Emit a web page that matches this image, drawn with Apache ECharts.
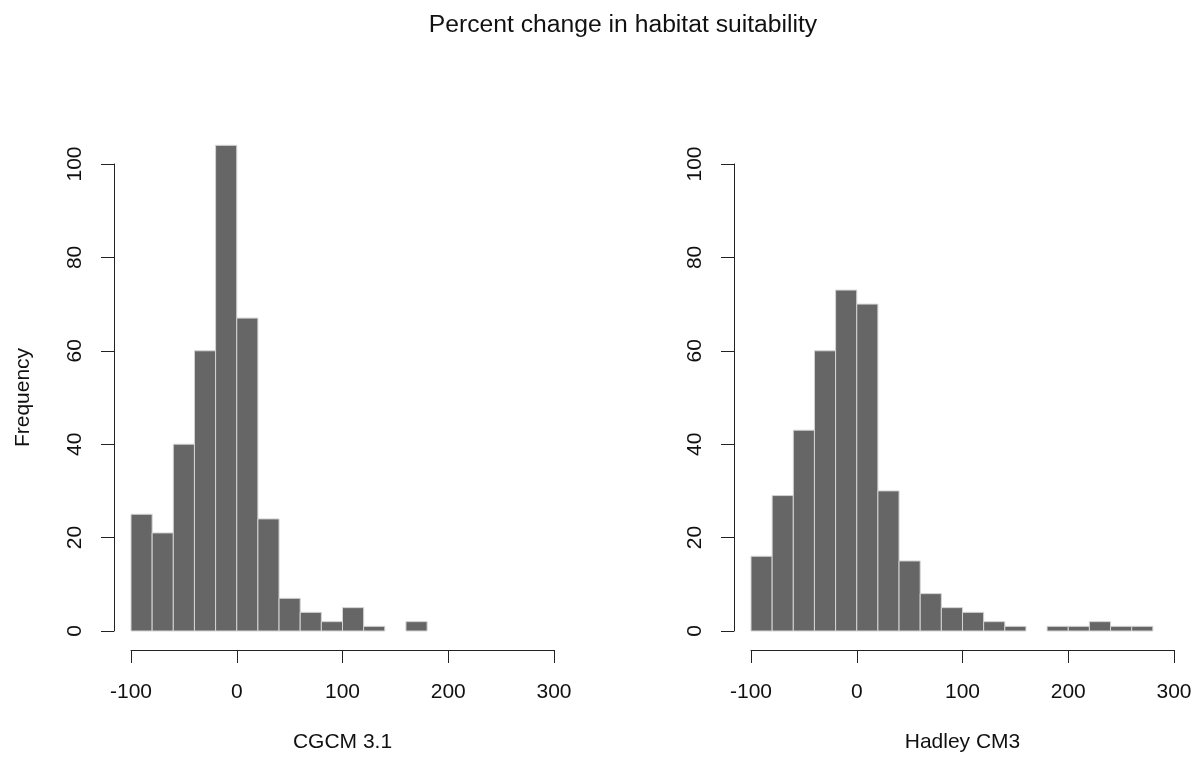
<!DOCTYPE html>
<html>
<head>
<meta charset="utf-8">
<script src="https://cdn.jsdelivr.net/npm/echarts@6/dist/echarts.min.js"></script>
<style>
html,body{margin:0;padding:0;background:#fff;}
#chart{width:1196px;height:759px;}
</style>
</head>
<body>
<div id="chart"></div>
<script>
// Histogram bin breaks (width 20)
const breaks = [-100,-80,-60,-40,-20,0,20,40,60,80,100,120,140,160,180,200,220,240,260,280];
// Frequencies per bin
const cgcmCounts = [25,21,40,60,104,67,24,7,4,2,5,1,0,2];
const hadleyCounts = [16,29,43,60,73,70,30,15,8,5,4,2,1,0,1,1,2,1,1];
const xTicks = [-100,0,100,200,300];
const yTicks = [0,20,40,60,80,100];
const panelNames = ['CGCM 3.1','Hadley CM3'];
const titleText = 'Percent change in habitat suitability';

const FONT = "'Liberation Sans', Arial, Helvetica, sans-serif";
const AXIS_COLOR = '#222';

function toBins(counts){
  const out = [];
  for (let i = 0; i < counts.length; i++) {
    if (counts[i] > 0) out.push([breaks[i], breaks[i+1], counts[i]]);
  }
  return out;
}

function renderBar(params, api){
  const p0 = api.coord([api.value(0), 0]);
  const p1 = api.coord([api.value(1), api.value(2)]);
  return {
    type: 'rect',
    shape: {x: p0[0], y: p1[1], width: p1[0]-p0[0], height: p0[1]-p1[1]},
    style: {fill: '#666666', stroke: '#d4d4d4', lineWidth: 1}
  };
}

const grids = [
  {left: 131, top: 164, width: 423, height: 467},
  {left: 751, top: 164, width: 423, height: 467}
];

const xAxes = [0,1].map(i => ({
  type: 'value', gridIndex: i, min: xTicks[0], max: xTicks[xTicks.length-1], interval: 100,
  offset: 19,
  name: panelNames[i], nameLocation: 'middle', nameGap: 82,
  nameTextStyle: {fontFamily: FONT, fontSize: 21, color: '#111'},
  axisLine: {show: true, onZero: false, lineStyle: {color: AXIS_COLOR, width: 1}},
  axisTick: {show: true, length: 13, lineStyle: {color: AXIS_COLOR, width: 1}},
  axisLabel: {show: true, margin: 32, fontFamily: FONT, fontSize: 21, color: '#111'},
  splitLine: {show: false}
}));

const yAxes = [0,1].map(i => ({
  type: 'value', gridIndex: i, min: yTicks[0], max: yTicks[yTicks.length-1], interval: 20,
  offset: 17,
  name: i === 0 ? 'Frequency' : '', nameLocation: 'middle', nameGap: 80,
  nameTextStyle: {fontFamily: FONT, fontSize: 21, color: '#111'},
  axisLine: {show: true, onZero: false, lineStyle: {color: AXIS_COLOR, width: 1}},
  axisTick: {show: true, length: 13, lineStyle: {color: AXIS_COLOR, width: 1}},
  axisLabel: {show: true, rotate: 90, margin: 28, fontFamily: FONT, fontSize: 21, color: '#111'},
  splitLine: {show: false}
}));

const chart = echarts.init(document.getElementById('chart'), null, {renderer: 'canvas'});
chart.setOption({
  animation: false,
  backgroundColor: '#ffffff',
  title: {
    text: titleText, left: 618, top: 8, textAlign: 'center',
    textStyle: {fontFamily: FONT, fontSize: 24.7, fontWeight: 'normal', color: '#111'}
  },
  grid: grids,
  xAxis: xAxes,
  yAxis: yAxes,
  series: [
    {type: 'custom', xAxisIndex: 0, yAxisIndex: 0, data: toBins(cgcmCounts), renderItem: renderBar, clip: false, encode: {x: [0,1], y: 2}},
    {type: 'custom', xAxisIndex: 1, yAxisIndex: 1, data: toBins(hadleyCounts), renderItem: renderBar, clip: false, encode: {x: [0,1], y: 2}}
  ]
});
</script>
</body>
</html>
